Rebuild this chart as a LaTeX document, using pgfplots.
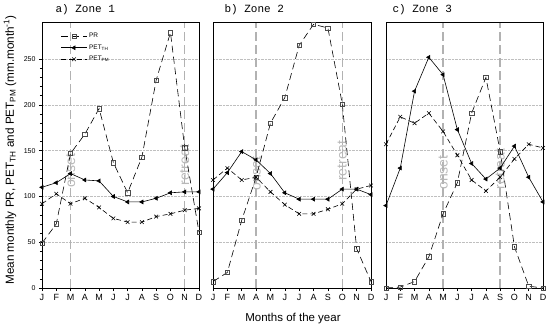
\documentclass[border=0pt]{standalone}
\usepackage{pgfplots}
\pgfplotsset{compat=1.18}
\usepackage{fontspec}
\setmainfont{Liberation Sans}
\newfontfamily\monofont{Liberation Mono}

\tikzset{
 onsetline/.style={black!30, line width=1.4pt, dash pattern=on 9pt off 4pt},
 onsettext/.style={rotate=90, black!28, font=\fontsize{14}{15}\selectfont},
}
\pgfplotsset{
 zone/.style={
  scale only axis, height=265.5pt, anchor=south west,
  xmin=1, xmax=12, ymin=0, ymax=290,
  xtick={1,...,12}, xticklabels={J,F,M,A,M,J,J,A,S,O,N,D},
  x tick label style={font=\fontsize{9}{10}\selectfont},
  ytick={0,50,100,150,200,250}, ymajorgrids,
  grid style={densely dotted, black!25, line width=0.6pt},
  axis line style={line width=0.9pt},
  tick style={black, line width=0.5pt},
  xtick pos=bottom, ytick pos=left,
  xtick align=outside, ytick align=outside,
  major tick length=3pt, minor tick length=2pt,
  /pgf/number format/assume math mode=true,
  clip=true,
 },
 pr/.style={black, line width=0.6pt, dash pattern=on 7pt off 4pt, mark=square, mark size=2.2pt, mark options={solid, black!70, fill=white, line width=0.5pt}},
 th/.style={black, line width=0.6pt, solid, mark=triangle*, mark options={rotate=90, solid}, mark size=2.2pt},
 pm/.style={black, line width=0.6pt, dash pattern=on 5pt off 3pt, mark=x, mark size=2.6pt, mark options={solid}},
}

\begin{document}
\begin{tikzpicture}
\useasboundingbox (0,0) rectangle (550pt,330pt);

% ---------- Zone 1 ----------
\begin{axis}[zone, width=157pt, at={(42pt,42pt)},
  y tick label style={font=\fontsize{7}{8}\selectfont},
  minor y tick num=4,
  legend style={at={(0.1,0.975)}, anchor=north west, draw=none, fill=none,
    font=\fontsize{6.5}{7}\selectfont, row sep=1.5pt},
  legend cell align=left,
  legend image code/.code={\draw[mark repeat=2,mark phase=2] plot coordinates {(0cm,0cm) (0.45cm,0cm) (0.9cm,0cm)};},
]
\draw[onsetline] (axis cs:3,0) -- (axis cs:3,290);
\draw[onsetline] (axis cs:11,0) -- (axis cs:11,290);
\node[onsettext] at (axis cs:3,128) {onset};
\node[onsettext] at (axis cs:11,134) {retreat};
\addplot[pr] coordinates {(1,49) (2,70) (3,147) (4,168) (5,196) (6,137) (7,104) (8,143) (9,227) (10,279) (11,153) (12,61)};
\addlegendentry{PR}
\addplot[th] coordinates {(1,110) (2,115) (3,125) (4,118) (5,117) (6,100) (7,94) (8,94) (9,98) (10,104) (11,105) (12,105)};
\addlegendentry{PET\textsubscript{TH}}
\addplot[pm] coordinates {(1,92) (2,103) (3,92) (4,98) (5,88) (6,76) (7,72) (8,72) (9,78) (10,81) (11,85) (12,87)};
\addlegendentry{PET\textsubscript{PM}}
\end{axis}

% ---------- Zone 2 ----------
\begin{axis}[zone, width=158pt, at={(213pt,42pt)}, yticklabels={}, ytick style={draw=none}]
\draw[onsetline] (axis cs:4,0) -- (axis cs:4,290);
\draw[onsetline] (axis cs:10,0) -- (axis cs:10,290);
\node[onsettext] at (axis cs:4,125) {onset};
\node[onsettext] at (axis cs:10,139) {retreat};
\addplot[pr] coordinates {(1,7) (2,17) (3,74) (4,121) (5,180) (6,208) (7,265) (8,288) (9,284) (10,201) (11,43) (12,7)};
\addplot[th] coordinates {(1,108) (2,126) (3,149) (4,140) (5,125) (6,104) (7,97) (8,97) (9,97) (10,108) (11,108) (12,102)};
\addplot[pm] coordinates {(1,118) (2,131) (3,118) (4,121) (5,105) (6,91) (7,81) (8,81) (9,86) (10,92) (11,108) (12,112)};
\end{axis}

% ---------- Zone 3 ----------
\begin{axis}[zone, width=157pt, at={(386pt,42pt)}, yticklabels={}, ytick style={draw=none}]
\draw[onsetline] (axis cs:5,0) -- (axis cs:5,290);
\draw[onsetline] (axis cs:9,0) -- (axis cs:9,290);
\node[onsettext] at (axis cs:5,126) {onset};
\node[onsettext] at (axis cs:9,130) {retreat};
\addplot[pr] coordinates {(1,0) (2,1) (3,7) (4,34) (5,81) (6,115) (7,191) (8,230) (9,149) (10,45) (11,2) (12,0)};
\addplot[th] coordinates {(1,90) (2,131) (3,215) (4,252) (5,233) (6,173) (7,136) (8,119) (9,131) (10,155) (11,121) (12,94)};
\addplot[pm] coordinates {(1,157) (2,187) (3,180) (4,191) (5,171) (6,145) (7,118) (8,106) (9,121) (10,141) (11,157) (12,153)};
\end{axis}

% titles and labels
\node[anchor=west, font=\monofont\fontsize{11}{12}\selectfont] at (52pt,320pt) {a) Zone 1};
\node[anchor=west, font=\monofont\fontsize{11}{12}\selectfont] at (221pt,320pt) {b) Zone 2};
\node[anchor=west, font=\monofont\fontsize{11}{12}\selectfont] at (389pt,320pt) {c) Zone 3};
\node[rotate=90, font=\fontsize{11.7}{12}\selectfont] at (10pt,180pt) {Mean monthly PR, PET\textsubscript{TH} and PET\textsubscript{PM} (mm.month\textsuperscript{-1})};
\node[font=\fontsize{11.5}{13}\selectfont] at (293pt,11pt) {Months of the year};
\end{tikzpicture}
\end{document}
